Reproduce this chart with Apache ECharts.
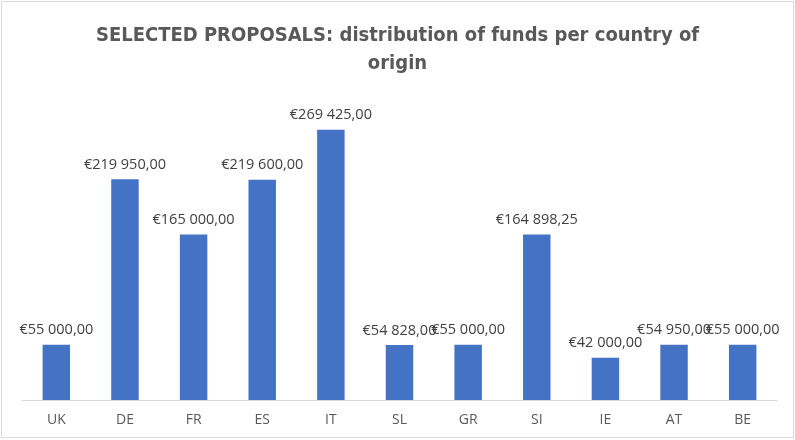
<!DOCTYPE html>
<html>
<head>
<meta charset="UTF-8"/>
<title>Selected proposals</title>
<script src="https://cdn.jsdelivr.net/npm/echarts@6/dist/echarts.min.js"></script>
<style>
html,body{margin:0;padding:0;background:#fff;}
#main{position:absolute;left:1px;top:1px;width:791px;height:435px;border:1px solid #d9d9d9;}
</style>
</head>
<body>
<div id="main"></div>
<script type="text/javascript">
var countries = ['UK','DE','FR','ES','IT','SL','GR','SI','IE','AT','BE'];
var funds = [55000, 219950, 165000, 219600, 269425, 54828, 55000, 164898.25, 42000, 54950, 55000];

// €55 000,00 style
function euro(v){
    var parts = v.toFixed(2).split('.');
    var intPart = parts[0].replace(/\B(?=(\d{3})+(?!\d))/g, ' ');
    return '€' + intPart + ',' + parts[1];
}

var myChart = echarts.init(document.getElementById('main'));
var option = {
    animation: false,
    title: {
        text: 'SELECTED PROPOSALS: distribution of funds per country of\norigin',
        left: 'center',
        top: 15,
        textStyle: {
            fontFamily: '"DejaVu Sans Condensed", sans-serif',
            fontSize: 20,
            fontWeight: 'bold',
            color: '#595959',
            lineHeight: 28
        }
    },
    grid: {left: 20, right: 16, top: 97, bottom: 37, containLabel: false},
    xAxis: {
        type: 'category',
        data: countries,
        axisLine: {lineStyle: {color: '#d9d9d9', width: 1}},
        axisTick: {show: false},
        axisLabel: {color: '#595959', fontSize: 14, margin: 13, fontFamily: '"Open Sans", sans-serif'}
    },
    yAxis: {
        type: 'value',
        min: 0,
        max: 300000,
        show: false,
        splitLine: {show: false}
    },
    series: [{
        type: 'bar',
        data: funds,
        barWidth: '40%',
        itemStyle: {color: '#4472c4'},
        label: {
            show: true,
            position: 'top',
            distance: 7,
            color: '#404040',
            fontSize: 14.5,
            fontFamily: '"Open Sans", sans-serif',
            formatter: function(p){ return euro(p.value); }
        }
    }]
};
myChart.setOption(option);
</script>
</body>
</html>
